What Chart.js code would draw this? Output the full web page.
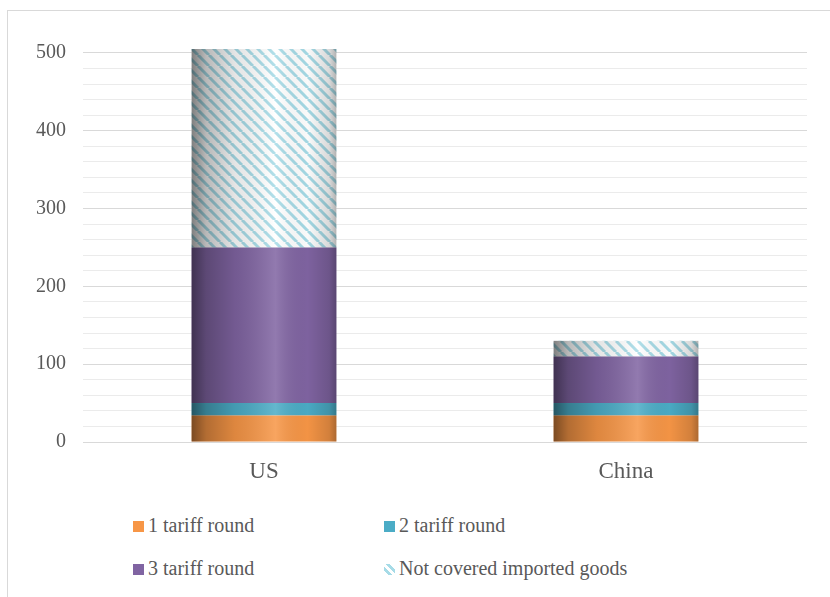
<!DOCTYPE html>
<html>
<head>
<meta charset="utf-8">
<script src="https://cdn.jsdelivr.net/npm/chart.js@4.4.1/dist/chart.umd.min.js"></script>
<style>
  body { margin: 0; width: 830px; height: 597px; overflow: hidden; background: #fff;
         font-family: "Liberation Serif", "Times New Roman", serif; }
  #frame { position: absolute; left: 7px; top: 10px; width: 840px; height: 620px; border: 1px solid #d9d9d9; }
  #wrap { position: absolute; left: 0; top: 0; width: 830px; height: 500px; }
  .lg-box { position: absolute; width: 11px; height: 11px; }
  .lg-text { position: absolute; font-size: 20px; line-height: 24px; color: #595959; white-space: nowrap; }
</style>
</head>
<body>
<div id="frame"></div>
<div id="wrap"><canvas id="chart" width="830" height="500"></canvas></div>
<div id="legend"></div>
<script>
const categories = ["US", "China"];
const round1 = [34, 34];
const round2 = [16, 16];
const round3 = [200, 60];
const notCovered = [255, 20];

const seriesNames = ["1 tariff round", "2 tariff round", "3 tariff round", "Not covered imported goods"];
const seriesColors = ["#f79646", "#4bacc6", "#8064a2", "#a6dbe7"];

const FONT = '"Liberation Serif", "Times New Roman", serif';
const TEXT = "#595959";

// diagonal light-blue stripes on white
const stripes = (() => {
  const c = document.createElement("canvas");
  c.width = 11;
  c.height = 11;
  const g = c.getContext("2d");
  g.fillStyle = "#ffffff";
  g.fillRect(0, 0, 11, 11);
  g.strokeStyle = seriesColors[3];
  g.lineWidth = 3;
  for (const k of [-11, 0, 11]) {
    g.beginPath();
    g.moveTo(k, 0);
    g.lineTo(k + 11, 11);
    g.stroke();
  }
  return g.createPattern(c, "repeat");
})();

// cylinder-like shading laid over every bar
const shading = {
  id: "shading",
  afterDatasetsDraw(chart) {
    const ctx = chart.ctx;
    chart.data.datasets.forEach((ds, i) => {
      chart.getDatasetMeta(i).data.forEach(el => {
        const { x, y, base, width } = el.getProps(["x", "y", "base", "width"], true);
        const left = x - width / 2;
        const top = Math.min(y, base);
        const h = Math.abs(base - y);
        const grad = ctx.createLinearGradient(left, 0, left + width, 0);
        grad.addColorStop(0, "rgba(0,0,0,0.50)");
        grad.addColorStop(0.1, "rgba(0,0,0,0.28)");
        grad.addColorStop(0.3, "rgba(0,0,0,0.10)");
        grad.addColorStop(0.58, "rgba(255,255,255,0.14)");
        grad.addColorStop(0.8, "rgba(0,0,0,0.02)");
        grad.addColorStop(0.95, "rgba(0,0,0,0.15)");
        grad.addColorStop(1, "rgba(0,0,0,0.30)");
        ctx.save();
        ctx.fillStyle = grad;
        ctx.fillRect(left, top, width, h);
        ctx.restore();
      });
    });
  }
};

const values = [round1, round2, round3, notCovered];

new Chart("chart", {
  type: "bar",
  data: {
    labels: categories,
    datasets: values.map((data, i) => ({
      label: seriesNames[i],
      data,
      backgroundColor: i === 3 ? stripes : seriesColors[i],
      borderWidth: 0,
      categoryPercentage: 1,
      barPercentage: 0.4
    }))
  },
  options: {
    responsive: false,
    animation: false,
    maintainAspectRatio: false,
    layout: { padding: { top: 49, right: 23, bottom: 16, left: 0 } },
    plugins: { legend: { display: false }, tooltip: { enabled: false } },
    scales: {
      x: {
        stacked: true,
        grid: { display: false },
        border: { display: false },
        ticks: { color: TEXT, font: { family: FONT, size: 23 }, padding: 8 },
        afterFit: s => { s.height = 42; }
      },
      y: {
        stacked: true,
        min: 0,
        max: 505,
        border: { display: false },
        grid: {
          drawTicks: false,
          color: c => (c.tick && c.tick.value % 100 === 0 ? "#d9d9d9" : "#ebebeb")
        },
        ticks: {
          stepSize: 20,
          maxTicksLimit: 40,
          autoSkip: false,
          includeBounds: false,
          padding: 17,
          color: TEXT,
          font: { family: FONT, size: 20 },
          // minor steps keep their grid line but get no label
          callback: v => (v % 100 === 0 ? String(v) : "")
        },
        afterFit: s => { s.width = 83; }
      }
    }
  },
  plugins: [shading]
});

// legend: two rows of two entries
const legendPos = [[133, 521], [384, 521], [133, 564], [384, 564]];
const legend = document.getElementById("legend");
seriesNames.forEach((name, i) => {
  const [bx, by] = legendPos[i];
  const box = document.createElement("div");
  box.className = "lg-box";
  box.style.left = bx + "px";
  box.style.top = by + "px";
  box.style.background = i === 3
    ? "repeating-linear-gradient(45deg, #fff 0 3px, " + seriesColors[3] + " 3px 6px)"
    : seriesColors[i];
  const txt = document.createElement("div");
  txt.className = "lg-text";
  txt.textContent = name;
  txt.style.left = (bx + 15) + "px";
  txt.style.top = (by - 8) + "px";
  legend.append(box, txt);
});
</script>
</body>
</html>
